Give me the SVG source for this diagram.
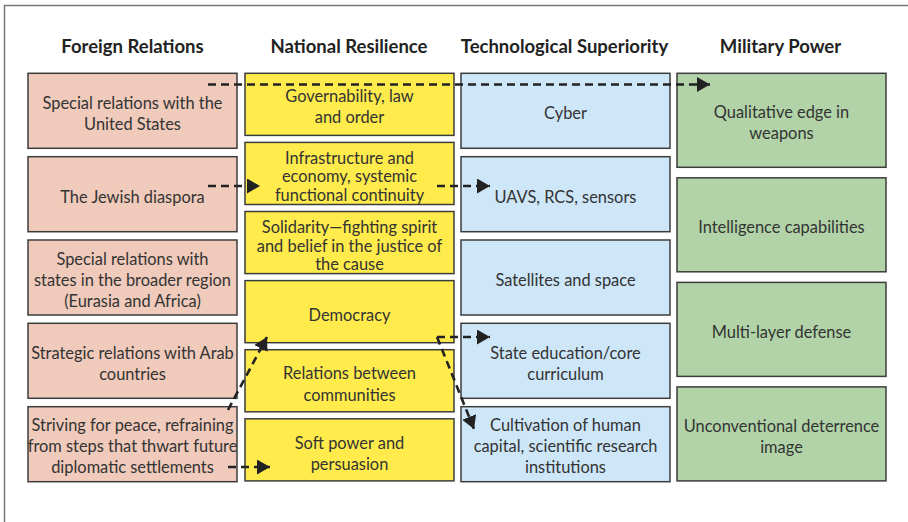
<svg xmlns="http://www.w3.org/2000/svg" width="908" height="522" viewBox="0 0 908 522">
<defs>
<style>
.hd{font-family:Lato,"Noto Sans",sans-serif;font-weight:bold;font-size:18.5px;fill:#222;text-anchor:middle}
.t{font-family:Lato,"Noto Sans",sans-serif;font-size:16.4px;fill:#333;text-anchor:middle}
.box{stroke:#3c3c3c;stroke-width:1.5}
.fr{fill:#F0CABA}
.nr{fill:#FFEB4B}
.ts{fill:#CDE6F8}
.mp{fill:#B1D3A7}
.c{fill:none;stroke:#222;stroke-width:2.6;stroke-dasharray:8 5}
</style>
<marker id="ah" markerUnits="userSpaceOnUse" markerWidth="13" markerHeight="15" viewBox="0 0 13 15" refX="13" refY="7.5" orient="auto">
<path d="M0,0 L13,7.5 L0,15 z" fill="#222"/>
</marker>
</defs>
<rect width="908" height="522" fill="#fff"/>
<path d="M4.5,522 V5.5 H908" fill="none" stroke="#777" stroke-width="1.5"/>

<g id="headers">
<text class="hd" x="132.5" y="53">Foreign Relations</text>
<text class="hd" x="349" y="53">National Resilience</text>
<text class="hd" x="564.5" y="53">Technological Superiority</text>
<text class="hd" x="780.5" y="53">Military Power</text>
</g>

<g id="fr1"><rect class="box fr" x="28" y="73.3" width="209" height="75"/><text class="t" x="132.5" y="109">Special relations with the</text><text class="t" x="132.5" y="130.4">United States</text></g>
<g id="fr2"><rect class="box fr" x="28" y="156.7" width="209" height="75"/><text class="t" x="132.5" y="202.5">The Jewish diaspora</text></g>
<g id="fr3"><rect class="box fr" x="28" y="240" width="209" height="75"/><text class="t" x="132.5" y="264.5">Special relations with</text><text class="t" x="132.5" y="285.9">states in the broader region</text><text class="t" x="132.5" y="307.3">(Eurasia and Africa)</text></g>
<g id="fr4"><rect class="box fr" x="28" y="323.3" width="209" height="75"/><text class="t" x="132.5" y="358.5">Strategic relations with Arab</text><text class="t" x="132.5" y="379.9">countries</text></g>
<g id="fr5"><rect class="box fr" x="28" y="406.7" width="209" height="75"/><text class="t" x="132.5" y="431">Striving for peace, refraining</text><text class="t" x="132.5" y="452.2">from steps that thwart future</text><text class="t" x="132.5" y="473.4">diplomatic settlements</text></g>

<g id="nr1"><rect class="box nr" x="245" y="73.3" width="209" height="62.1"/><text class="t" x="349.5" y="102.2">Governability, law</text><text class="t" x="349.5" y="123.4">and order</text></g>
<g id="nr2"><rect class="box nr" x="245" y="142.4" width="209" height="62.1"/><text class="t" x="349.5" y="164">Infrastructure and</text><text class="t" x="349.5" y="182.4">economy, systemic</text><text class="t" x="349.5" y="200.8">functional continuity</text></g>
<g id="nr3"><rect class="box nr" x="245" y="211.5" width="209" height="62.1"/><text class="t" x="349.5" y="233.3">Solidarity—fighting spirit</text><text class="t" x="349.5" y="251.7">and belief in the justice of</text><text class="t" x="349.5" y="270.1">the cause</text></g>
<g id="nr4"><rect class="box nr" x="245" y="280.6" width="209" height="62.1"/><text class="t" x="349.5" y="320.5">Democracy</text></g>
<g id="nr5"><rect class="box nr" x="245" y="349.7" width="209" height="62.1"/><text class="t" x="349.5" y="379.3">Relations between</text><text class="t" x="349.5" y="400.5">communities</text></g>
<g id="nr6"><rect class="box nr" x="245" y="418.8" width="209" height="62.1"/><text class="t" x="349.5" y="448.5">Soft power and</text><text class="t" x="349.5" y="469.7">persuasion</text></g>

<g id="ts1"><rect class="box ts" x="461" y="73.3" width="209" height="75"/><text class="t" x="565.5" y="119.1">Cyber</text></g>
<g id="ts2"><rect class="box ts" x="461" y="156.7" width="209" height="75"/><text class="t" x="565.5" y="202.5">UAVS, RCS, sensors</text></g>
<g id="ts3"><rect class="box ts" x="461" y="240" width="209" height="75"/><text class="t" x="565.5" y="285.8">Satellites and space</text></g>
<g id="ts4"><rect class="box ts" x="461" y="323.3" width="209" height="75"/><text class="t" x="565.5" y="358.5">State education/core</text><text class="t" x="565.5" y="379.9">curriculum</text></g>
<g id="ts5"><rect class="box ts" x="461" y="406.7" width="209" height="75"/><text class="t" x="565.5" y="431">Cultivation of human</text><text class="t" x="565.5" y="452.2">capital, scientific research</text><text class="t" x="565.5" y="473.4">institutions</text></g>

<g id="mp1"><rect class="box mp" x="677" y="73.3" width="209" height="94"/><text class="t" x="781.5" y="118">Qualitative edge in</text><text class="t" x="781.5" y="139.4">weapons</text></g>
<g id="mp2"><rect class="box mp" x="677" y="177.8" width="209" height="94"/><text class="t" x="781.5" y="233.1">Intelligence capabilities</text></g>
<g id="mp3"><rect class="box mp" x="677" y="282.4" width="209" height="94"/><text class="t" x="781.5" y="337.7">Multi-layer defense</text></g>
<g id="mp4"><rect class="box mp" x="677" y="386.9" width="209" height="94"/><text class="t" x="781.5" y="431.6">Unconventional deterrence</text><text class="t" x="781.5" y="453">image</text></g>

<g id="connectors">
<path class="c" d="M208,84.5 H710" marker-end="url(#ah)"/>
<path class="c" d="M208,186 H260" marker-end="url(#ah)"/>
<path class="c" d="M437,186 H490" marker-end="url(#ah)"/>
<path class="c" d="M437,337 H490" marker-end="url(#ah)"/>
<path class="c" d="M437,337 L474,429" marker-end="url(#ah)"/>
<path class="c" d="M228,410 L267,337" marker-end="url(#ah)"/>
<path class="c" d="M228,467 H270" marker-end="url(#ah)"/>
</g>
</svg>
